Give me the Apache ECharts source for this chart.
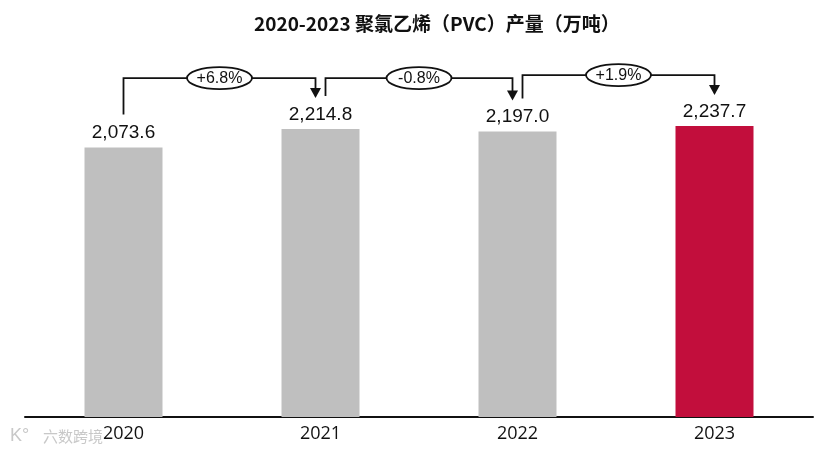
<!DOCTYPE html>
<html>
<head>
<meta charset="utf-8">
<script src="https://cdn.jsdelivr.net/npm/echarts@6/dist/echarts.min.js"></script>
<style>html,body{margin:0;padding:0;background:#fff}#c{width:831px;height:456px}</style>
</head>
<body>
<div id="c"></div>
<script>
const years = ['2020', '2021', '2022', '2023'];
const output = [2073.6, 2214.8, 2197.0, 2237.7];
const growthLabels = ['+6.8%', '-0.8%', '+1.9%'];
const titleText = '2020-2023 聚氯乙烯（PVC）产量（万吨）';

const GRAY = '#BFBFBF';
const RED = '#C20E3C';

const chart = echarts.init(document.getElementById('c'), null, {renderer: 'canvas'});
const option = {
  animation: false,
  backgroundColor: '#fff',
  title: {
    text: titleText,
    left: 249, top: 9,
    textStyle: {fontFamily: '"Noto Sans CJK SC", "Noto Sans", sans-serif', fontSize: 19, fontWeight: 'bold', color: '#111'}
  },
  grid: {left: 25, right: 18, top: 53, bottom: 39, containLabel: false},
  xAxis: {
    type: 'category', data: years,
    axisLine: {lineStyle: {color: '#111', width: 2}},
    axisTick: {show: false},
    axisLabel: {margin: 8, fontSize: 18, color: '#111', fontFamily: '"Open Sans", "Liberation Sans", sans-serif'}
  },
  yAxis: {type: 'value', min: 0, max: 2800, show: false, splitLine: {show: false}},
  series: [{
    type: 'bar', barWidth: 78,
    data: output.map((v, i) => ({value: v, itemStyle: {color: i === output.length - 1 ? RED : GRAY}})),
    label: {
      show: true, position: 'top', distance: 5,
      fontSize: 19, color: '#111', fontFamily: '"Liberation Sans", Arial, sans-serif',
      formatter: p => p.value.toLocaleString('en-US', {minimumFractionDigits: 1, maximumFractionDigits: 1})
    }
  }]
};
chart.setOption(option);

const tops = output.map((v, i) => chart.convertToPixel({seriesIndex: 0}, [i, v]));
const g = [];
for (let i = 0; i < output.length - 1; i++) {
  const a = tops[i], b = tops[i + 1];
  const x1 = a[0] + (i > 0 ? 5 : 0);
  const x2 = b[0] - (i + 1 < output.length - 1 ? 5 : 0);
  const yStart = a[1] - 33;
  const yH = Math.min(a[1], b[1]) - 51;
  const yTip = b[1] - 31;
  g.push({
    type: 'polyline', z: 10,
    shape: {points: [[x1, yStart], [x1, yH], [x2, yH], [x2, yTip - 9]]},
    style: {stroke: '#111', lineWidth: 1.8, fill: null}
  });
  g.push({
    type: 'polygon', z: 10,
    shape: {points: [[x2 - 5.5, yTip - 10], [x2 + 5.5, yTip - 10], [x2, yTip]]},
    style: {fill: '#111'}
  });
  const cx = (x1 + x2) / 2;
  g.push({
    type: 'ellipse', z: 11,
    shape: {cx: cx, cy: yH, rx: 32.5, ry: 11},
    style: {fill: '#fff', stroke: '#111', lineWidth: 1.8}
  });
  g.push({
    type: 'text', z: 12, x: cx, y: yH + 0.5,
    style: {text: growthLabels[i], fontSize: 16, fill: '#111', fontFamily: '"Liberation Sans", Arial, sans-serif', align: 'center', verticalAlign: 'middle'}
  });
}
g.push({
  type: 'text', left: 10, top: 427,
  style: {text: 'K°', fontSize: 18, fill: '#c8c8c8', fontFamily: '"Liberation Sans", sans-serif'}
});
g.push({
  type: 'text', left: 43, top: 429,
  style: {text: '六数跨境', fontSize: 15, fill: '#c8c8c8', fontFamily: '"Noto Sans CJK SC", sans-serif'}
});
chart.setOption({graphic: g});
</script>
</body>
</html>
